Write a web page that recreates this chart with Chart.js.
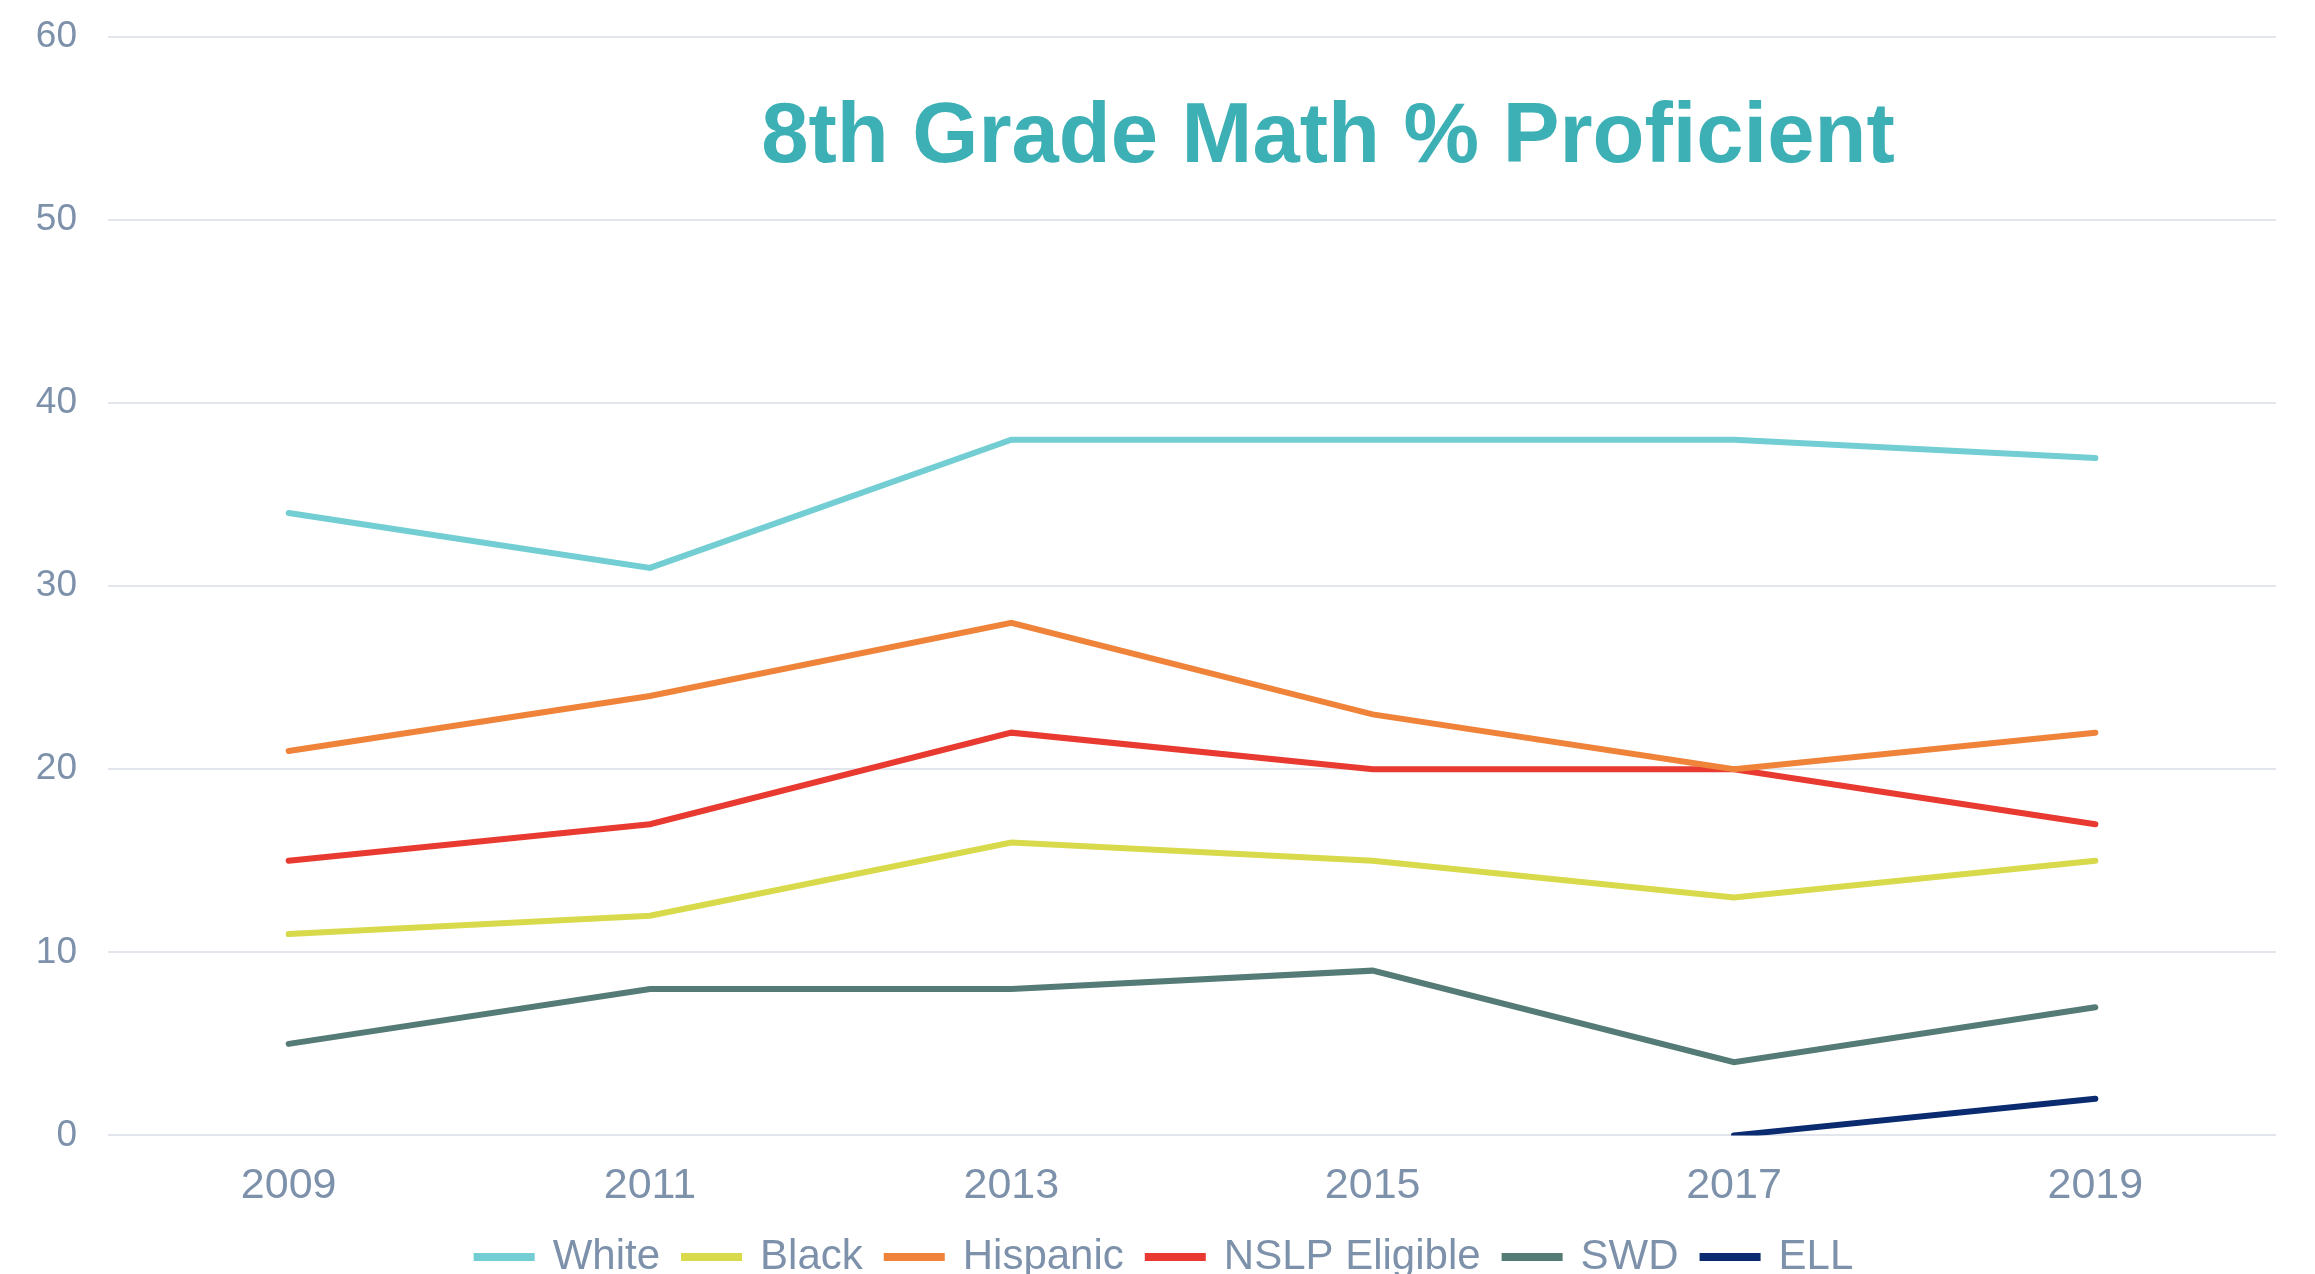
<!DOCTYPE html>
<html>
<head>
<meta charset="utf-8">
<script src="https://cdn.jsdelivr.net/npm/chart.js@4/dist/chart.umd.min.js"></script>
<style>
  html, body { margin: 0; padding: 0; overflow: hidden; background: #ffffff; }
  #wrap { width: 2315px; height: 1288px; }
</style>
</head>
<body>
<div id="wrap"><canvas id="c" width="2315" height="1288"></canvas></div>
<script>
const years = ["2009", "2011", "2013", "2015", "2017", "2019"];
const white = [34, 31, 38, 38, 38, 37];
const black = [11, 12, 16, 15, 13, 15];
const hispanic = [21, 24, 28, 23, 20, 22];
const nslp = [15, 17, 22, 20, 20, 17];
const swd = [5, 8, 8, 9, 4, 7];
const ell = [null, null, null, null, 0, 2];
const yTicks = [0, 10, 20, 30, 40, 50, 60];
const titleText = "8th Grade Math % Proficient";

const textColor = "#7D91AB";
const gridColor = "#E2E6EC";

function ds(label, data, color) {
  return {
    label: label, data: data, borderColor: color, backgroundColor: color,
    borderWidth: 6, pointRadius: 0, pointHoverRadius: 0, tension: 0,
    spanGaps: false, borderCapStyle: "round", borderJoinStyle: "miter"
  };
}

// let the y tick labels extend left of the (narrow) y-axis box without being clipped
const noLabelClip = {
  id: "noLabelClip",
  beforeDraw(chart) {
    const y = chart.scales.y;
    if (y) y._computeLabelArea = function () { return undefined; };
  }
};

const titlePlugin = {
  id: "overlayTitle",
  afterDraw(chart) {
    const ctx = chart.ctx;
    const a = chart.chartArea;
    const y = chart.scales.y.getPixelForValue(53.16);
    const x = a.left + (a.right - a.left) * 0.5627;
    ctx.save();
    ctx.font = "bold 85px 'Liberation Sans', Arial, sans-serif";
    ctx.fillStyle = "#3DB0B6";
    ctx.textAlign = "center";
    ctx.textBaseline = "alphabetic";
    ctx.fillText(titleText, x, y);
    ctx.restore();
  }
};

new Chart(document.getElementById("c"), {
  type: "line",
  data: {
    labels: years,
    datasets: [
      ds("White", white, "#72CED3"),
      ds("Black", black, "#D8DA4C"),
      ds("Hispanic", hispanic, "#F0833A"),
      ds("NSLP Eligible", nslp, "#E83A30"),
      ds("SWD", swd, "#557B76"),
      ds("ELL", ell, "#0B2B70")
    ]
  },
  options: {
    responsive: false,
    animation: false,
    devicePixelRatio: 1,
    layout: { autoPadding: false, padding: { top: 0, right: 39, left: 54, bottom: 0 } },
    plugins: {
      title: { display: false },
      tooltip: { enabled: false },
      legend: {
        position: "bottom",
        labels: {
          color: textColor,
          font: { family: "'Liberation Sans', Arial, sans-serif", size: 42 },
          boxWidth: 55,
          boxHeight: 2,
          padding: 24
        }
      }
    },
    scales: {
      x: {
        offset: true,
        grid: { display: false, drawTicks: false },
        border: { display: false },
        afterFit(scale) { scale.height = scale.height - 25; },
        ticks: {
          color: textColor,
          font: { family: "'Liberation Sans', Arial, sans-serif", size: 43 },
          padding: 25,
          maxRotation: 0
        }
      },
      y: {
        min: 0, max: 60,
        afterBuildTicks(scale) { scale.ticks = yTicks.map(v => ({ value: v })); },
        afterFit(scale) {
          scale.width = 54;
          scale.paddingTop = 37;
          scale.paddingBottom = 0;
        },
        grid: { color: gridColor, lineWidth: 2, drawTicks: false },
        border: { display: false },
        ticks: {
          color: textColor,
          font: { family: "'Liberation Sans', Arial, sans-serif", size: 37 },
          padding: 31
        }
      }
    }
  },
  plugins: [noLabelClip, titlePlugin]
});
</script>
</body>
</html>
